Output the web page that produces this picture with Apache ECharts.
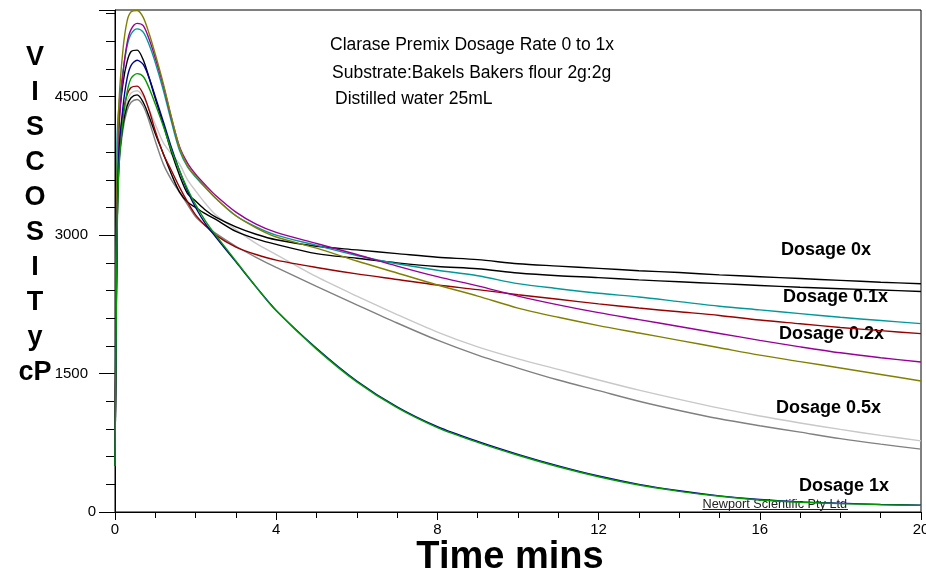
<!DOCTYPE html>
<html><head><meta charset="utf-8">
<script src="https://cdn.jsdelivr.net/npm/echarts@6/dist/echarts.min.js"></script>
<style>html,body{margin:0;padding:0;background:#fff}#c{width:926px;height:573px}</style>
</head><body><div id="c"></div>
<script>
// Time (mins)
const times = [0, 0.05, 0.1, 0.2, 0.3, 0.4, 0.55, 0.7, 0.85, 1.0, 1.2, 1.4, 1.6, 1.8, 2.0, 2.25, 2.5, 3.0, 3.5, 4, 5, 6, 7, 8, 9, 10, 11, 12, 13, 14, 15, 16, 17, 18, 19, 20];
// Viscosity cP
const dose0a = [500, 3500, 4240, 4650, 4880, 4990, 5005, 4900, 4700, 4480, 4200, 3900, 3650, 3450, 3370, 3270, 3195, 3090, 3010, 2950, 2880, 2840, 2800, 2760, 2735, 2690, 2665, 2640, 2615, 2595, 2570, 2550, 2530, 2510, 2490, 2474];
const dose0b = [500, 3000, 3800, 4200, 4400, 4490, 4520, 4440, 4280, 4100, 3880, 3660, 3470, 3360, 3300, 3230, 3170, 3040, 2960, 2900, 2800, 2750, 2700, 2660, 2636, 2590, 2560, 2540, 2515, 2495, 2475, 2455, 2435, 2420, 2405, 2390];
const dose01a = [500, 4000, 4420, 4780, 5050, 5180, 5235, 5200, 5060, 4870, 4570, 4230, 3920, 3740, 3630, 3510, 3400, 3210, 3090, 3000, 2890, 2780, 2690, 2620, 2560, 2475, 2420, 2370, 2330, 2280, 2230, 2190, 2150, 2110, 2075, 2041];
const dose01b = [500, 3200, 3950, 4330, 4520, 4600, 4615, 4530, 4350, 4130, 3880, 3700, 3520, 3360, 3220, 3100, 3000, 2870, 2790, 2730, 2650, 2580, 2520, 2460, 2410, 2355, 2305, 2255, 2210, 2170, 2130, 2080, 2040, 2000, 1965, 1933];
const dose02a = [500, 3300, 4150, 4750, 5080, 5230, 5295, 5270, 5120, 4920, 4620, 4270, 3960, 3780, 3660, 3540, 3430, 3250, 3120, 3030, 2910, 2790, 2665, 2550, 2450, 2340, 2245, 2160, 2085, 2010, 1935, 1860, 1790, 1725, 1672, 1626];
const dose02b = [500, 3600, 4450, 5020, 5320, 5420, 5435, 5360, 5180, 4960, 4640, 4280, 3950, 3750, 3640, 3520, 3400, 3210, 3080, 2980, 2860, 2720, 2590, 2460, 2340, 2210, 2110, 2020, 1940, 1860, 1780, 1700, 1630, 1560, 1490, 1420];
const dose05a = [500, 3100, 3850, 4250, 4450, 4540, 4565, 4500, 4360, 4200, 4000, 3880, 3772, 3600, 3480, 3340, 3220, 3060, 2910, 2790, 2550, 2340, 2140, 1950, 1790, 1660, 1545, 1430, 1320, 1220, 1125, 1040, 965, 895, 830, 771];
const dose05b = [500, 3000, 3750, 4150, 4350, 4440, 4470, 4400, 4230, 4020, 3770, 3600, 3465, 3330, 3200, 3100, 3020, 2880, 2760, 2650, 2445, 2245, 2048, 1862, 1700, 1560, 1430, 1315, 1200, 1100, 1010, 935, 865, 795, 735, 681];
const dose1a = [500, 3000, 3900, 4400, 4700, 4840, 4895, 4850, 4700, 4500, 4230, 3950, 3700, 3480, 3300, 3120, 2980, 2710, 2440, 2185, 1775, 1420, 1140, 925, 765, 625, 500, 390, 300, 230, 175, 135, 110, 95, 82, 75];
const dose1b = [500, 2900, 3750, 4250, 4550, 4700, 4750, 4720, 4590, 4420, 4180, 3920, 3700, 3500, 3330, 3150, 3000, 2720, 2440, 2180, 1765, 1410, 1130, 915, 755, 615, 490, 382, 292, 224, 170, 130, 106, 91, 80, 72];

const seriesNames = ['Dosage 0.5x a','Dosage 0.5x b','Dosage 0x a','Dosage 0x b','Dosage 0.1x a','Dosage 0.1x b','Dosage 0.2x a','Dosage 0.2x b','Dosage 1x a','Dosage 1x b'];
const seriesData = [dose05a, dose05b, dose0a, dose0b, dose01a, dose01b, dose02a, dose02b, dose1a, dose1b];
const seriesColors = ['#c8c8c8','#808080','#000000','#000000','#009999','#990000','#990099','#808000','#000099','#009900'];

const yMax = 5440;
const yMajor = 1500;
const yMinor = 300;
const xMax = 20;
const xMajor = 4;

const curveLabels = ['Dosage 0x','Dosage 0.1x','Dosage 0.2x','Dosage 0.5x','Dosage 1x'];
const noteLines = ['Clarase Premix Dosage Rate 0 to 1x','Substrate:Bakels Bakers flour 2g:2g','Distilled water 25mL'];
const yTitle = 'V\nI\nS\nC\nO\nS\nI\nT\ny\ncP';
const xTitle = 'Time mins';
const credit = 'Newport Scientific Pty Ltd';

const FONT = 'Arial, "Liberation Sans", sans-serif';
const chart = echarts.init(document.getElementById('c'));

const series = seriesData.map((vals, i) => ({
  name: seriesNames[i], type: 'line', xAxisIndex: 0, yAxisIndex: 0,
  data: times.map((t, k) => [t, vals[k]]),
  showSymbol: false, smooth: 0.3,
  lineStyle: { color: seriesColors[i], width: 1.4 }, itemStyle: { color: seriesColors[i] },
  silent: true, animation: false
}));

const labelPos = [[781, 250], [783, 297], [779, 334], [776, 408], [799, 486]];
const notePos = [[330, 45], [332, 73], [335, 99]];
const graphics = [];
curveLabels.forEach((s, i) => graphics.push({ type: 'text', x: labelPos[i][0], y: labelPos[i][1],
  style: { text: s, font: 'bold 18px ' + FONT, fill: '#000', align: 'left', verticalAlign: 'middle' } }));
noteLines.forEach((s, i) => graphics.push({ type: 'text', x: notePos[i][0], y: notePos[i][1],
  style: { text: s, font: '17.5px ' + FONT, fill: '#000', align: 'left', verticalAlign: 'middle' } }));
graphics.push({ type: 'text', x: 35, y: 40, style: { text: yTitle, font: 'bold 27px ' + FONT, fill: '#000', align: 'center', verticalAlign: 'top', lineHeight: 35 } });
graphics.push({ type: 'text', x: 510, y: 558, style: { text: xTitle, font: 'bold 38px ' + FONT, fill: '#000', align: 'center', verticalAlign: 'middle' } });
graphics.push({ type: 'text', x: 702.5, y: 504, style: { text: credit, font: '12.7px ' + FONT, fill: '#222', align: 'left', verticalAlign: 'middle' } });
graphics.push({ type: 'line', shape: { x1: 702.5, y1: 509.5, x2: 848, y2: 509.5 }, style: { stroke: '#222', lineWidth: 1 } });

chart.setOption({
  animation: false,
  backgroundColor: '#fff',
  grid: [
    { left: 115, right: 5, top: 10, bottom: 61, show: true, borderColor: '#000', borderWidth: 1, backgroundColor: 'transparent', outerBoundsMode: 'none', containLabel: false },
    { left: 115, right: 5, top: 10, bottom: 61, show: false, outerBoundsMode: 'none', containLabel: false }
  ],
  xAxis: [
    { type: 'value', gridIndex: 0, min: 0, max: xMax, interval: xMajor,
      axisLine: { show: true, lineStyle: { color: '#000', width: 1 } },
      axisTick: { show: true, length: 8, lineStyle: { color: '#000' } },
      minorTick: { show: true, splitNumber: 4, length: 6, lineStyle: { color: '#000' } },
      splitLine: { show: false }, minorSplitLine: { show: false },
      axisLabel: { color: '#000', fontSize: 15, fontFamily: FONT, margin: 10 } },
    { type: 'value', gridIndex: 1, min: 0, max: xMax, show: false }
  ],
  yAxis: [
    { type: 'value', gridIndex: 0, min: 0, max: yMax, interval: yMinor,
      axisLine: { show: true, lineStyle: { color: '#000', width: 1 } },
      axisTick: { show: true, length: 9, lineStyle: { color: '#000' } },
      splitLine: { show: false },
      axisLabel: { color: '#000', fontSize: 15, fontFamily: FONT, margin: 27, showMaxLabel: false,
        formatter: v => (v === 0 ? '{z|0}' : (v % yMajor === 0 ? String(v) : '')),
        rich: { z: { fontSize: 15, fontFamily: FONT, color: '#000', padding: [0, -8, 0, 0] } } } },
    { type: 'value', gridIndex: 1, min: 0, max: yMax, interval: yMajor,
      axisLine: { show: false }, axisLabel: { show: false }, splitLine: { show: false },
      axisTick: { show: true, length: 16, lineStyle: { color: '#000' } } }
  ],
  series: series,
  graphic: graphics
});
</script></body></html>
